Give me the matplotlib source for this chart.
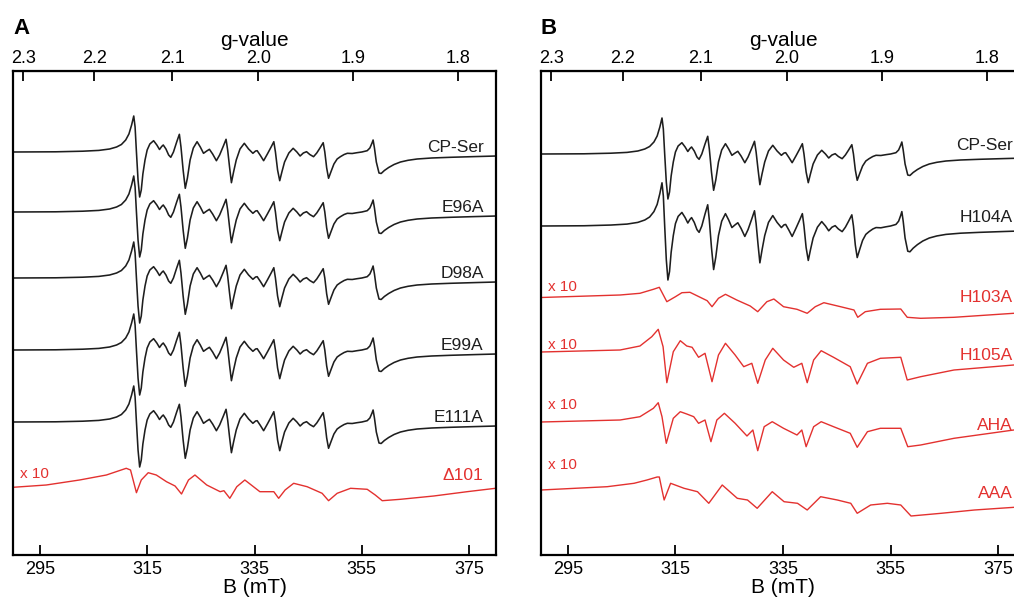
import numpy as np
import matplotlib
matplotlib.use("Agg")
import matplotlib.pyplot as plt

plt.rcParams['font.family'] = ['Liberation Sans', 'DejaVu Sans']

# g = C / B  (C = h*nu/muB in mT, about 9.40 GHz)
G_CONST = 671.4

# black spectrum shape (CP-Ser), B in mT and intensity in arbitrary units
b_black = [290.0, 298.0, 303.0, 306.0, 308.0, 309.3, 310.2, 311.0, 311.6, 312.1,
           312.5, 312.75, 313.0, 313.3, 313.6, 313.9, 314.2, 314.6, 315.0, 315.5,
           316.2, 316.8, 317.3, 317.7, 318.0, 318.5, 319.0, 319.4, 319.9, 320.5,
           321.0, 321.3, 321.7, 322.1, 322.5, 323.0, 323.6, 324.3, 324.9, 325.5,
           326.1, 326.6, 327.2, 327.9, 328.5, 329.2, 329.7, 330.0, 330.35, 330.7,
           331.1, 331.6, 332.3, 333.1, 333.9, 334.7, 335.2, 335.5, 336.1, 336.7,
           337.4, 338.1, 338.6, 338.9, 339.3, 339.7, 340.1, 340.6, 341.4, 342.2,
           342.9, 343.5, 344.1, 344.7, 345.3, 346.0, 346.6, 347.2, 347.8, 348.1,
           348.45, 348.8, 349.3, 349.8, 350.4, 351.0, 351.7, 352.3, 353.2, 354.1,
           355.0, 356.0, 356.5, 356.9, 357.1, 357.35, 357.7, 358.2, 358.6, 359.2,
           360.0, 361.0, 362.2, 363.6, 365.3, 368.0, 371.5, 376.0, 380.1]
i_black = [0, 0.2, 0.8, 1.6, 3, 5, 7.5, 12, 18, 27,
           36, 25, 0, -28, -45, -38, -22, -8, 2, 8,
           11.3, 7, 2.5, 5.5, 7, 3, -3, -5.3, 0, 10,
           17.7, 5, -18, -36.3, -26, -8, 4, 10.3, 5, -1.3,
           1, 2.7, -2, -8.7, -3, 6, 12.7, 2, -15, -30.7,
           -20, -8, 3, 8.7, 3, -1.3, 1, 1.3, -3.5, -8.7,
           -2, 5, 10.3, 0, -18, -28.7, -20, -10, -1, 3.7,
           0, -4, -1, 0.3, -2.5, -4.7, -1, 4, 9.3, 0,
           -16, -26.3, -19, -12, -7, -4.7, -2.5, -1.3, -1.5, -0.7,
           0, 1.3, 4, 9, 12, 4, -10, -21, -21.5, -18.5,
           -15.5, -12.5, -10, -8.3, -7, -6, -5.3, -4.6, -4]

# red x10 spectra
b_d101 = [290.0, 296.2, 302.4, 307.4, 311.1, 311.9, 313.0, 313.9, 315.2, 316.7,
          318.6, 320.2, 321.4, 322.7, 323.9, 326.1, 328.6, 329.3, 330.4, 331.7,
          333.2, 336.0, 338.6, 339.5, 340.7, 342.3, 344.8, 347.6, 348.8, 350.4,
          352.9, 356.0, 357.5, 358.8, 362.2, 368.4, 374.6, 379.9]
i_d101 = [0.7, 3, 8, 13, 19.7, 18, -4.7, 8, 15.3, 13,
          6.3, 2, -6, 8, 13, 3, -3.7, -2.7, -10.3, 1.3,
          8, -3.7, -3.7, -10.3, -2, 4.7, 1.3, -5.3, -12.7, -5.3,
          -0.3, -1.3, -7, -12.7, -11.3, -8, -3.7, -0.3]

b_h103 = [290.0, 304.7, 308.4, 310.9, 312.0, 313.4, 315.0, 316.2, 317.7, 319.6,
          320.9, 321.8, 323.0, 324.3, 326.4, 328.9, 330.3, 332.0, 333.3, 335.1,
          337.6, 339.5, 341.0, 342.6, 345.7, 348.2, 348.9, 350.3, 353.1, 356.9,
          358.1, 360.6, 366.8, 377.9, 380.0]
i_h103 = [2.5, 5, 6.7, 10.7, 12.7, -1.7, 3.3, 7.3, 7.7, 2.7,
          -0.7, -6.7, 1.7, 5.7, 0, -6, -11.7, -1.7, 1, -6.7,
          -9.3, -13.3, -6.7, -2.7, -6.7, -10, -17.3, -11.7, -9.3, -9,
          -17.3, -18.3, -17.3, -13.3, -13]

b_h105 = [290.0, 304.7, 308.4, 310.6, 311.8, 312.7, 313.4, 314.6, 315.9, 317.1,
          318.1, 319.3, 320.5, 321.8, 323.0, 324.3, 326.1, 327.7, 329.2, 330.3,
          331.7, 333.1, 335.1, 337.0, 338.5, 339.5, 340.7, 342.1, 344.4, 347.5,
          348.8, 350.7, 353.1, 356.9, 358.1, 360.6, 366.8, 377.9, 380.0]
i_h105 = [3, 5, 9, 18.3, 25.7, 8.3, -27.7, 3.3, 14.3, 9,
          7.7, -2.3, 1.7, -26.7, 0, 11.7, 0, -11.7, -8.3, -28.3,
          -5, 6.7, -5, -12.3, -8.3, -27.7, -5, 4.3, -2.3, -11.7,
          -29, -8.3, -3.3, -2.3, -25, -21.7, -15, -10, -9.5]

b_aha = [290.0, 304.7, 308.4, 310.9, 311.8, 312.5, 313.3, 314.6, 315.9, 317.1,
         318.4, 319.3, 320.5, 321.6, 322.7, 324.1, 326.1, 328.3, 329.4, 330.3,
         331.5, 333.0, 335.1, 337.6, 338.5, 339.3, 340.7, 342.1, 344.4, 347.5,
         348.8, 350.7, 353.1, 356.9, 358.2, 360.6, 366.8, 377.9, 380.0]
i_aha = [3, 5, 8.3, 16.7, 22.3, 8.3, -18.3, 6.7, 13.3, 11,
         8.3, 1.7, 5, -16.7, 5, 11.7, 1.7, -11, -5, -25.7,
         -1.7, 3.3, -3.3, -10, -5, -21.7, -1.7, 3.3, -1.7, -8.3,
         -22.3, -6.7, -3.3, -3.3, -21.7, -20, -13.3, -5, -4.5]

b_aaa = [290.0, 302.3, 307.3, 309.7, 311.6, 312.0, 312.5, 312.9, 314.1, 316.6,
         319.1, 321.2, 323.7, 326.5, 328.4, 330.2, 333.0, 335.2, 337.7, 339.5,
         342.0, 345.1, 347.6, 348.8, 351.3, 354.4, 356.9, 358.8, 364.4, 370.6,
         378.0, 380.0]
i_aaa = [3, 6.3, 9.7, 13, 16, 16, 3, -7, 9.7, 4.7,
         1.3, -10.3, 8, -5.3, -7, -15.3, 1.3, -8.7, -10.3, -17,
         -3.7, -7, -10.3, -20.3, -12, -10.3, -12, -23, -20.3, -17,
         -14.3, -14]

labels_a = ['CP-Ser', 'E96A', 'D98A', 'E99A', 'E111A', '\u0394101']
offsets_a = [403, 343, 277, 205, 133, 67]
label_y_a = [408, 348, 282, 210, 138, 80]

labels_b = ['CP-Ser', 'H104A', 'H103A', 'H105A', 'AHA', 'AAA']
offsets_b = [401, 329, 255, 200, 130, 62]
label_y_b = [410, 337, 257, 200, 130, 62]
x10_y_b = [268, 210, 150, 90]

RED = '#e3312f'
BLACK = '#1e1e1e'


def setup_axes(ax):
    ax.set_xlim(290, 380)
    ax.set_ylim(0, 484)
    ax.set_yticks([])
    ax.set_xticks([295, 315, 335, 355, 375])
    ax.tick_params(axis='x', direction='in', length=7, width=1.3,
                   labelsize=13, pad=4, top=False)
    for s in ax.spines.values():
        s.set_linewidth(1.6)
    ax.set_xlabel('B (mT)', fontsize=15, labelpad=0)
    sec = ax.secondary_xaxis('top', functions=(lambda b: G_CONST / b,
                                               lambda g: G_CONST / g))
    sec.set_xticks([2.3, 2.2, 2.1, 2.0, 1.9, 1.8])
    sec.set_xticklabels(['2.3', '2.2', '2.1', '2.0', '1.9', '1.8'])
    sec.tick_params(direction='in', length=7, width=1.3, labelsize=13, pad=3)
    sec.set_xlabel('g-value', fontsize=15, labelpad=3)


fig = plt.figure(figsize=(10.14, 5.99), dpi=100)
ax_a = fig.add_axes([13 / 1014, 44 / 599, 483 / 1014, 484 / 599])
ax_b = fig.add_axes([541 / 1014, 44 / 599, 484 / 1014, 484 / 599])

# panel A
traces_a = [(b_black, i_black, 1.0), (b_black, i_black, 1.0), (b_black, i_black, 1.0),
            (b_black, i_black, 1.0), (b_black, i_black, 1.0), (b_d101, i_d101, 1.0)]
for k, (bb, ii, sc) in enumerate(traces_a):
    col = RED if k == 5 else BLACK
    ax_a.plot(bb, offsets_a[k] + sc * np.array(ii), color=col,
              lw=1.0 if col == RED else 1.15)
    ax_a.text(377.7, label_y_a[k], labels_a[k], color=col, fontsize=12.5,
              ha='right', va='center')
ax_a.text(291.3, 81, 'x 10', color=RED, fontsize=11, ha='left', va='center')
setup_axes(ax_a)

# panel B
traces_b = [(b_black, i_black, 1.0), (b_black, i_black, 1.2), (b_h103, i_h103, 1.0),
            (b_h105, i_h105, 1.0), (b_aha, i_aha, 1.0), (b_aaa, i_aaa, 1.0)]
for k, (bb, ii, sc) in enumerate(traces_b):
    col = RED if k >= 2 else BLACK
    ax_b.plot(bb, offsets_b[k] + sc * np.array(ii), color=col,
              lw=1.0 if col == RED else 1.15)
    ax_b.text(377.7, label_y_b[k], labels_b[k], color=col, fontsize=12.5,
              ha='right', va='center')
for yy in x10_y_b:
    ax_b.text(291.3, yy, 'x 10', color=RED, fontsize=11, ha='left', va='center')
setup_axes(ax_b)

fig.text(13 / 1014, 1 - 28 / 599, 'A', fontsize=16, fontweight='bold', va='center')
fig.text(541 / 1014, 1 - 28 / 599, 'B', fontsize=16, fontweight='bold', va='center')

fig.savefig('out.png', dpi=100)
